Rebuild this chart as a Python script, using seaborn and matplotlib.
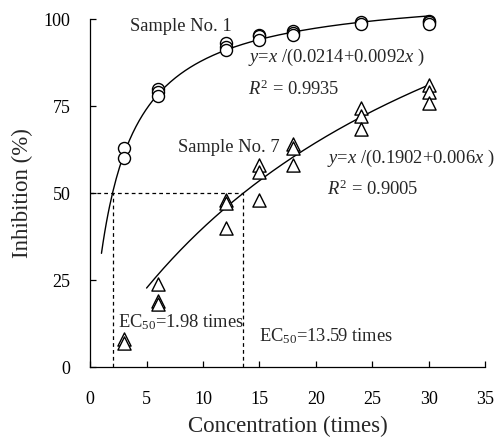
import numpy as np
import pandas as pd
import matplotlib
matplotlib.use("Agg")
import matplotlib.pyplot as plt
import seaborn as sns

# Measured inhibition (%) at each concentration (times), replicates listed per dose
s1_conc = [3, 3, 6, 6, 6, 12, 12, 12, 15, 15, 15, 18, 18, 18, 24, 24, 30, 30, 30]
s1_inhib = [63, 60, 80, 79, 78, 93, 92, 91, 95.5, 95, 94, 96.5, 96, 95.5, 99, 98.5, 99.5, 99, 98.5]

s7_conc = [3, 3, 6, 6, 6, 12, 12, 12, 15, 15, 15, 18, 18, 18, 24, 24, 24, 30, 30, 30]
s7_inhib = [8, 7, 24, 19, 18, 48, 47, 40, 58, 56, 48, 64, 63, 58, 74.5, 72, 68.5, 81, 79, 76]

# Hyperbolic fit parameters y = x / (a + b x)
fit1 = (0.0214, 0.0092)
fit7 = (0.1902, 0.006)
fit1_range = (1.0, 30.0)
fit7_range = (5.0, 30.0)
ec50_1 = 1.98
ec50_7 = 13.59

xticks = [0, 5, 10, 15, 20, 25, 30, 35]
yticks = [0, 25, 50, 75, 100]

sns.set_theme(style="white")
plt.rcParams["font.family"] = ["Liberation Serif", "DejaVu Serif"]
plt.rcParams["mathtext.fontset"] = "custom"
plt.rcParams["mathtext.rm"] = "Liberation Serif"
plt.rcParams["mathtext.it"] = "Liberation Serif:italic"

fig = plt.figure(figsize=(5.01, 4.37), dpi=100)
ax = fig.add_axes([0.18, 0.16, 0.788, 0.7965])

def fit_frame(params, rng):
    a, b = params
    x = np.linspace(rng[0], rng[1], 200)
    return pd.DataFrame({"x": x, "y": x / (a + b * x)})

sns.lineplot(data=fit_frame(fit1, fit1_range), x="x", y="y", ax=ax, color="black",
             lw=1.0, clip_on=False)
sns.lineplot(data=fit_frame(fit7, fit7_range), x="x", y="y", ax=ax, color="black",
             lw=1.0, clip_on=False)

df1 = pd.DataFrame({"x": s1_conc, "y": s1_inhib})
df7 = pd.DataFrame({"x": s7_conc, "y": s7_inhib})
sns.scatterplot(data=df1, x="x", y="y", ax=ax, marker="o", s=75,
                facecolor="white", edgecolor="black", linewidth=1.0, zorder=3,
                clip_on=False)
sns.scatterplot(data=df7, x="x", y="y", ax=ax, marker="^", s=90,
                facecolor="white", edgecolor="black", linewidth=1.0, zorder=3,
                clip_on=False)

# EC50 guide lines
dash = dict(color="black", lw=0.9, ls=(0, (3, 2.5)))
ax.plot([0, ec50_7], [50, 50], **dash)
ax.plot([ec50_1, ec50_1], [0, 50], **dash)
ax.plot([ec50_7, ec50_7], [0, 50], **dash)

fs = 13.3
ax.text(3.5, 97.8, "Sample No. 1", fontsize=fs, va="center")
ax.text(14.0, 89, r"$y$=$x$ /(0.0214+0.0092$x$ )", fontsize=fs, va="center")
ax.text(14.0, 79.7, r"$R^2$ = 0.9935", fontsize=fs, va="center")
ax.text(7.8, 63.2, "Sample No. 7", fontsize=fs, va="center")
ax.text(21.0, 59.8, r"$y$=$x$ /(0.1902+0.006$x$ )", fontsize=fs, va="center")
ax.text(21.0, 51.1, r"$R^2$ = 0.9005", fontsize=fs, va="center")
ax.text(2.5, 12.9, r"EC$_{50}$=1.98 times", fontsize=fs, va="center")
ax.text(15.0, 8.9, r"EC$_{50}$=13.59 times", fontsize=fs, va="center")

ax.set_xlim(0, 35)
ax.set_ylim(0, 100)
ax.set_xticks(xticks)
ax.set_yticks(yticks)
ax.set_xlabel("Concentration (times)", fontsize=16.5, labelpad=6)
ax.set_ylabel("Inhibition (%)", fontsize=16.5, labelpad=8)
ax.tick_params(direction="in", length=4, width=0.9, labelsize=13, colors="black",
               bottom=True, left=True)
ax.tick_params(axis="x", pad=17)
ax.tick_params(axis="y", pad=14)
for side in ["top", "right"]:
    ax.spines[side].set_visible(False)
for side in ["left", "bottom"]:
    ax.spines[side].set_color("black")
    ax.spines[side].set_linewidth(0.9)

fig.savefig("out.png", dpi=100, facecolor="white")
